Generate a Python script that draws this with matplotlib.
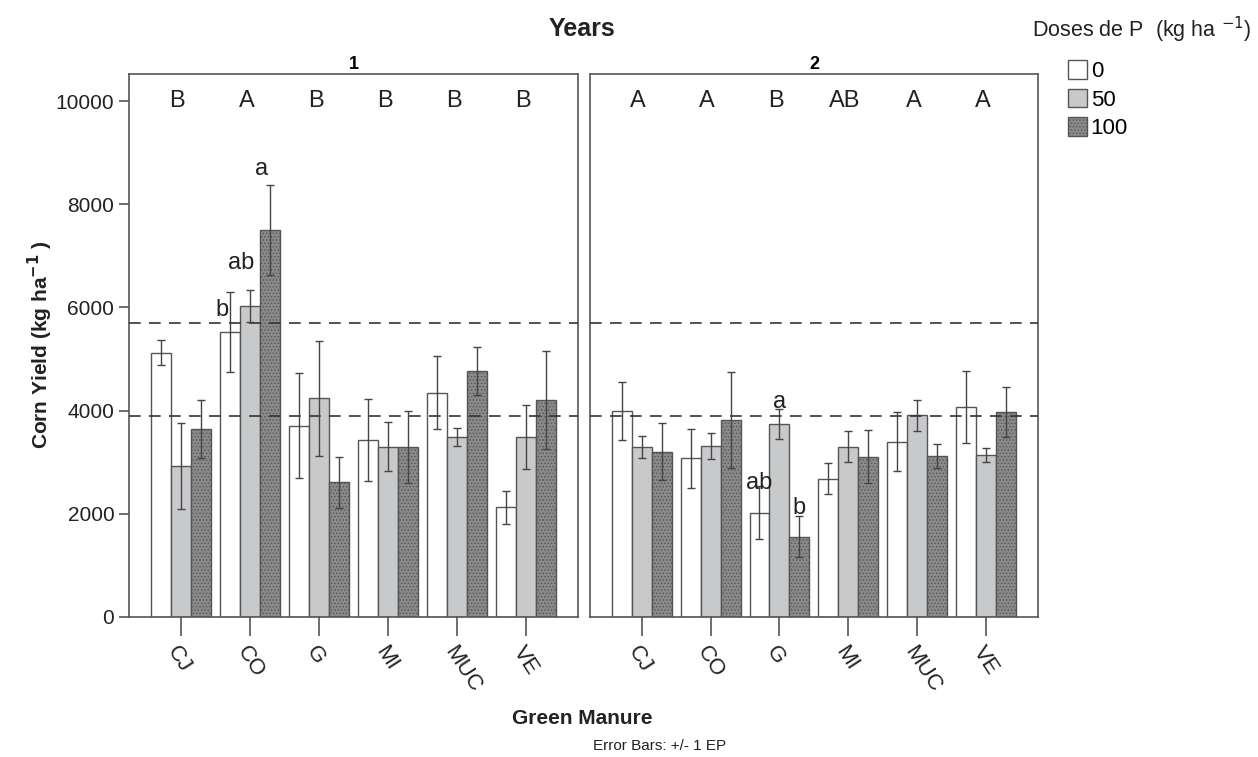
import numpy as np
import matplotlib.pyplot as plt
from matplotlib.patches import Patch

plt.rcParams['font.family'] = ['Liberation Sans', 'DejaVu Sans']

manures = ['CJ', 'CO', 'G', 'MI', 'MUC', 'VE']
doses = ['0', '50', '100']

# year 1, mean and +/- 1 EP for each dose
y1_d0 = [5120, 5520, 3710, 3430, 4350, 2125]
y1_d50 = [2925, 6025, 4235, 3295, 3480, 3480]
y1_d100 = [3640, 7500, 2610, 3295, 4765, 4205]
y1_e0 = [240, 780, 1010, 795, 700, 320]
y1_e50 = [840, 315, 1115, 475, 175, 620]
y1_e100 = [565, 865, 495, 690, 470, 950]

# year 2
y2_d0 = [3990, 3075, 2020, 2680, 3400, 4075]
y2_d50 = [3300, 3310, 3740, 3300, 3905, 3140]
y2_d100 = [3205, 3815, 1555, 3105, 3120, 3965]
y2_e0 = [555, 570, 515, 300, 565, 695]
y2_e50 = [210, 250, 285, 297, 300, 130]
y2_e100 = [550, 930, 400, 517, 230, 485]

upper1 = ['B', 'A', 'B', 'B', 'B', 'B']
upper2 = ['A', 'A', 'B', 'AB', 'A', 'A']

# lowercase letters: (group, dose index, text, y)
lower1 = [(1, 0, 'b', 5950), (1, 1, 'ab', 6860), (1, 2, 'a', 8680)]
lower2 = [(2, 0, 'ab', 2600), (2, 1, 'a', 4170), (2, 2, 'b', 2110)]

ref_lines = [5700, 3900]

fig = plt.figure(figsize=(12.58, 7.57), dpi=100)
ax1 = fig.add_axes([0.1025, 0.185, 0.357, 0.717])
ax2 = fig.add_axes([0.469, 0.185, 0.356, 0.717])

edge = '#555555'
bw = 0.29
offs = [-bw, 0, bw]
styles = [dict(facecolor='white', hatch=None),
          dict(facecolor='#c8c9cb', hatch=None),
          dict(facecolor='#8a8a8a', hatch='.....')]

plt.rcParams['hatch.linewidth'] = 0.6
plt.rcParams['hatch.color'] = '#333333'

x = np.arange(len(manures))
panels = [
    (ax1, [y1_d0, y1_d50, y1_d100], [y1_e0, y1_e50, y1_e100], upper1, lower1,
     '1', -0.12),
    (ax2, [y2_d0, y2_d50, y2_d100], [y2_e0, y2_e50, y2_e100], upper2, lower2,
     '2', 0.0),
]

for ax, means, errs, upper, lower, title, shift in panels:
    for k in range(3):
        ax.bar(x + offs[k], means[k], width=bw, edgecolor=edge, linewidth=1.0,
               zorder=2, **styles[k])
        ax.errorbar(x + offs[k], means[k], yerr=errs[k], fmt='none',
                    ecolor='#444444', elinewidth=1.0, capsize=3, capthick=1.0,
                    zorder=4)
    for v in ref_lines:
        ax.axhline(v, color='#333333', lw=1.2, ls=(0, (7, 5)), zorder=3)
    for i, t in enumerate(upper):
        ax.text(x[i] - 0.05, 10000, t, ha='center', va='center', fontsize=17,
                color='#222222')
    for g, k, t, yv in lower:
        ax.text(x[g] + offs[k] + shift, yv, t, ha='center', va='center',
                fontsize=17, color='#222222', zorder=5)
    ax.set_xlim(-0.75, 5.75)
    ax.set_ylim(0, 10520)
    ax.set_title(title, fontsize=13, fontweight='bold', pad=4)
    ax.set_xticks(x)
    ax.set_xticklabels(manures, rotation=-57, ha='left', va='top',
                       rotation_mode='anchor', fontsize=16, color='#222222')
    ax.tick_params(axis='x', length=14, width=1.2, color=edge, pad=4)
    for s in ax.spines.values():
        s.set_color(edge)
        s.set_linewidth(1.2)

ax1.set_yticks([0, 2000, 4000, 6000, 8000, 10000])
ax1.tick_params(axis='y', labelsize=15, length=7, width=1.2, color=edge,
                labelcolor='#222222')
ax2.set_yticks([])

fig.text(0.463, 0.962, 'Years', ha='center', va='center', fontsize=18,
         fontweight='bold', color='#222222')
fig.text(0.463, 0.051, 'Green Manure', ha='center', va='center', fontsize=15,
         fontweight='bold', color='#222222')
fig.text(0.524, 0.014, 'Error Bars: +/- 1 EP', ha='center', va='center',
         fontsize=11, color='#222222')
fig.text(0.032, 0.545, r'Corn Yield (kg ha$^{\mathbf{-1}}$ )', rotation=90,
         ha='center', va='center', fontsize=15, fontweight='bold',
         color='#222222')
fig.text(0.82, 0.96, r'Doses de P  (kg ha $^{-1}$)', ha='left', va='center',
         fontsize=15.5, color='#222222')

handles = [Patch(edgecolor=edge, linewidth=1.0, **styles[k]) for k in range(3)]
fig.legend(handles, doses, loc='upper left', bbox_to_anchor=(0.8405, 0.935),
           frameon=False, fontsize=16, handlelength=0.85, handleheight=0.9,
           handletextpad=0.15, labelspacing=0.3, borderpad=0)

fig.savefig('out.png', dpi=100)
